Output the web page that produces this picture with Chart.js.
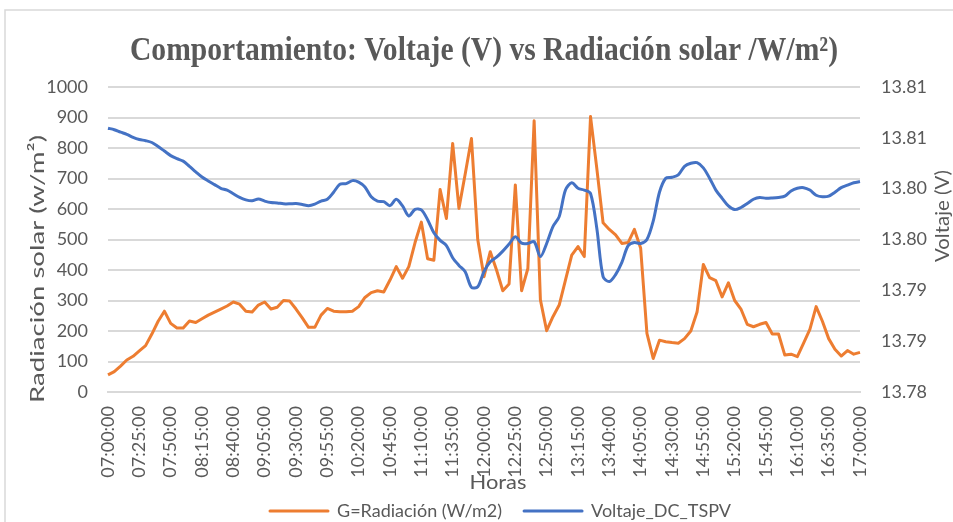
<!DOCTYPE html>
<html>
<head>
<meta charset="utf-8">
<script src="https://cdn.jsdelivr.net/npm/chart.js@4.4.1/dist/chart.umd.min.js"></script>
<style>
  html, body { margin: 0; padding: 0; background: #ffffff; overflow: hidden; }
  #wrap { position: relative; width: 953px; height: 522px; }
</style>
</head>
<body>
<div id="wrap"><canvas id="c" width="953" height="522"></canvas></div>
<script>
// ---------- DATA ----------
const horas = [
  "07:00:00","07:05:00","07:10:00","07:15:00","07:20:00","07:25:00","07:30:00","07:35:00","07:40:00","07:45:00",
  "07:50:00","07:55:00","08:00:00","08:05:00","08:10:00","08:15:00","08:20:00","08:25:00","08:30:00","08:35:00",
  "08:40:00","08:45:00","08:50:00","08:55:00","09:00:00","09:05:00","09:10:00","09:15:00","09:20:00","09:25:00",
  "09:30:00","09:35:00","09:40:00","09:45:00","09:50:00","09:55:00","10:00:00","10:05:00","10:10:00","10:15:00",
  "10:20:00","10:25:00","10:30:00","10:35:00","10:40:00","10:45:00","10:50:00","10:55:00","11:00:00","11:05:00",
  "11:10:00","11:15:00","11:20:00","11:25:00","11:30:00","11:35:00","11:40:00","11:45:00","11:50:00","11:55:00",
  "12:00:00","12:05:00","12:10:00","12:15:00","12:20:00","12:25:00","12:30:00","12:35:00","12:40:00","12:45:00",
  "12:50:00","12:55:00","13:00:00","13:05:00","13:10:00","13:15:00","13:20:00","13:25:00","13:30:00","13:35:00",
  "13:40:00","13:45:00","13:50:00","13:55:00","14:00:00","14:05:00","14:10:00","14:15:00","14:20:00","14:25:00",
  "14:30:00","14:35:00","14:40:00","14:45:00","14:50:00","14:55:00","15:00:00","15:05:00","15:10:00","15:15:00",
  "15:20:00","15:25:00","15:30:00","15:35:00","15:40:00","15:45:00","15:50:00","15:55:00","16:00:00","16:05:00",
  "16:10:00","16:15:00","16:20:00","16:25:00","16:30:00","16:35:00","16:40:00","16:45:00","16:50:00","16:55:00",
  "17:00:00"
];

const radiacion = [
  56, 67, 85, 105, 117, 135, 152, 190, 232, 265,
  225, 210, 210, 233, 228, 240, 252, 262, 272, 282,
  295, 288, 265, 262, 285, 295, 272, 278, 300, 298,
  272, 243, 212, 212, 252, 274, 265, 263, 263, 265,
  280, 310, 326, 332, 328, 367, 411, 373, 411, 490,
  557, 437, 432, 664, 569, 815, 602, 715, 831, 500,
  378, 460, 400, 332, 354, 679, 332, 405, 889, 302,
  201, 247, 285, 367, 449, 477, 444, 903, 733, 555,
  533, 515, 487, 490, 533, 471, 192, 110, 170, 165,
  162, 160, 175, 200, 262, 418, 375, 365, 312, 358,
  300, 272, 222, 214, 222, 228, 190, 190, 121, 124,
  116, 160, 205, 280, 232, 175, 140, 118, 136, 124,
  130
];

const voltaje = [
  13.80595, 13.80580, 13.80556, 13.80535, 13.80505, 13.80484, 13.80472, 13.80454, 13.80415, 13.80370,
  13.80325, 13.80295, 13.80271, 13.80220, 13.80166, 13.80115, 13.80076, 13.80040, 13.80004, 13.79986,
  13.79950, 13.79914, 13.79890, 13.79881, 13.79899, 13.79878, 13.79863, 13.79860, 13.79851, 13.79851,
  13.79854, 13.79845, 13.79833, 13.79848, 13.79878, 13.79896, 13.79965, 13.80043, 13.80049, 13.80079,
  13.80064, 13.80016, 13.79920, 13.79878, 13.79872, 13.79833, 13.79896, 13.79830, 13.79731, 13.79797,
  13.79791, 13.79695, 13.79566, 13.79491, 13.79440, 13.79320, 13.79245, 13.79182, 13.79029, 13.79035,
  13.79185, 13.79281, 13.79326, 13.79386, 13.79455, 13.79527, 13.79464, 13.79461, 13.79479, 13.79332,
  13.79461, 13.79626, 13.79725, 13.79986, 13.80058, 13.80004, 13.79986, 13.79953, 13.79611, 13.79134,
  13.79086, 13.79155, 13.79275, 13.79440, 13.79470, 13.79461, 13.79500, 13.79680, 13.79965, 13.80103,
  13.80112, 13.80136, 13.80220, 13.80250, 13.80256, 13.80205, 13.80103, 13.79986, 13.79905, 13.79830,
  13.79794, 13.79815, 13.79854, 13.79896, 13.79914, 13.79905, 13.79908, 13.79914, 13.79926, 13.79977,
  13.80004, 13.80010, 13.79986, 13.79935, 13.79920, 13.79926, 13.79965, 13.80010, 13.80034, 13.80058,
  13.80070
];

const tituloGrafico = "Comportamiento: Voltaje (V) vs Radiación solar /W/m²)";
const tituloEjeIzq = "Radiación solar (w/m²)";
const tituloEjeDer = "Voltaje (V)";
const tituloEjeX = "Horas";
const serieNombres = ["G=Radiación (W/m2)", "Voltaje_DC_TSPV"];
const ejeIzq = { min: 0, max: 1000, step: 100 };
const ejeDer = { min: 13.78, max: 13.81, step: 0.005 };
const pasoEtiquetasX = 5;

// ---------- STYLE ----------
const GRAY_TEXT = '#595959';
const GRID = '#d9d9d9';
const ORANGE = '#ED7D31';
const BLUE = '#4472C4';
const tickFont = { family: 'Lato', size: 18 };

function drawStretched(c, text, font, color, cx, cy, len, angle) {
  c.save();
  c.font = font;
  c.fillStyle = color;
  c.textAlign = 'center';
  c.textBaseline = 'middle';
  c.translate(cx, cy);
  c.rotate(angle);
  const w = c.measureText(text).width;
  c.scale(len / w, 1);
  c.fillText(text, 0, 0);
  c.restore();
}

const textPlugin = {
  id: 'customTexts',
  beforeDraw(chart) {
    const c = chart.ctx;
    c.save();
    c.strokeStyle = GRID;
    c.lineWidth = 1.5;
    c.beginPath();
    c.moveTo(5, 522);
    c.lineTo(5, 10);
    c.lineTo(953, 10);
    c.stroke();
    c.restore();
  },
  afterDraw(chart) {
    const c = chart.ctx;
    drawStretched(c, tituloGrafico, 'bold 33px "Liberation Serif"', GRAY_TEXT, 484, 51, 708, 0);
    drawStretched(c, tituloEjeIzq, '20px Lato', GRAY_TEXT, 38, 269, 268, -Math.PI / 2);
    drawStretched(c, tituloEjeDer, '20px Lato', GRAY_TEXT, 943, 216, 92, -Math.PI / 2);
    drawStretched(c, tituloEjeX, '20px Lato', GRAY_TEXT, 498, 483, 57, 0);
  }
};

const ctx = document.getElementById('c').getContext('2d');
new Chart(ctx, {
  type: 'line',
  data: {
    labels: horas,
    datasets: [
      {
        label: serieNombres[0],
        data: radiacion,
        yAxisID: 'y',
        borderColor: ORANGE,
        backgroundColor: ORANGE,
        borderWidth: 3,
        pointRadius: 0,
        tension: 0,
        borderJoinStyle: 'round',
        order: 1
      },
      {
        label: serieNombres[1],
        data: voltaje,
        yAxisID: 'y1',
        borderColor: BLUE,
        backgroundColor: BLUE,
        borderWidth: 3,
        pointRadius: 0,
        tension: 0.3,
        borderJoinStyle: 'round',
        order: 0
      }
    ]
  },
  options: {
    responsive: false,
    animation: false,
    layout: { padding: { left: 48, right: 0, top: 87, bottom: -8 } },
    plugins: {
      title: { display: false },
      tooltip: { enabled: false },
      legend: {
        position: 'bottom',
        labels: {
          font: { family: 'Lato', size: 18 },
          color: GRAY_TEXT,
          boxWidth: 58,
          boxHeight: 0.01,
          padding: 22,
          sort: (a, b) => a.datasetIndex - b.datasetIndex
        }
      }
    },
    scales: {
      x: {
        type: 'category',
        grid: { display: false, drawTicks: false },
        border: { display: true, color: GRID, width: 2 },
        ticks: {
          autoSkip: false,
          minRotation: 90,
          maxRotation: 90,
          padding: 14,
          font: tickFont,
          color: GRAY_TEXT,
          callback: (v, i) => (i % pasoEtiquetasX === 0 ? horas[i] : '')
        },
        afterFit: (s) => { s.height = 88; }
      },
      y: {
        position: 'left',
        min: ejeIzq.min,
        max: ejeIzq.max,
        ticks: {
          stepSize: ejeIzq.step,
          padding: 20,
          font: tickFont,
          color: GRAY_TEXT,
          callback: (v) => String(Math.round(v))
        },
        grid: { color: GRID, lineWidth: 2, drawTicks: false },
        border: { display: false },
        afterFit: (s) => { s.width = 60; }
      },
      y1: {
        position: 'right',
        min: ejeDer.min,
        max: ejeDer.max,
        ticks: {
          stepSize: ejeDer.step,
          padding: 21,
          font: tickFont,
          color: GRAY_TEXT,
          callback: (v) => (Math.round(v * 100 + 1e-6) / 100).toFixed(2)
        },
        grid: { drawOnChartArea: false, drawTicks: false },
        border: { display: false },
        afterFit: (s) => { s.width = 93; }
      }
    }
  },
  plugins: [textPlugin]
});
</script>
</body>
</html>
